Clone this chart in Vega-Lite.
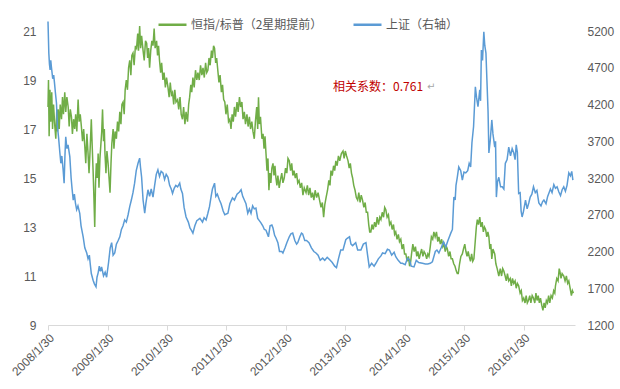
{
  "$schema": "https://vega.github.io/schema/vega-lite/v6.json",
  "width": 527,
  "height": 294,
  "autosize": {"type": "none"},
  "padding": {"left": 48, "top": 31, "right": 45, "bottom": 64},
  "background": "white",
  "config": {
    "view": {"stroke": null},
    "font": "Liberation Sans",
    "axis": {"labelColor": "#595959", "labelFontSize": 12, "grid": false, "titleColor": "#595959"}
  },
  "datasets": {
    "hs": [
      {"date":"2008-01-30","v":17.9},{"date":"2008-02-02","v":19.0},{"date":"2008-02-06","v":16.7},{"date":"2008-02-11","v":18.6},{"date":"2008-02-16","v":17.3},{"date":"2008-02-22","v":18.5},{"date":"2008-02-27","v":17.0},{"date":"2008-03-04","v":18.0},{"date":"2008-03-12","v":17.1},{"date":"2008-03-18","v":16.6},{"date":"2008-03-24","v":17.8},{"date":"2008-03-29","v":16.9},{"date":"2008-04-02","v":17.8},{"date":"2008-04-08","v":17.0},{"date":"2008-04-14","v":18.0},{"date":"2008-04-22","v":17.4},{"date":"2008-04-28","v":18.3},{"date":"2008-05-04","v":17.6},{"date":"2008-05-12","v":18.5},{"date":"2008-05-18","v":17.7},{"date":"2008-05-25","v":18.3},{"date":"2008-06-02","v":17.9},{"date":"2008-06-08","v":17.1},{"date":"2008-06-15","v":17.8},{"date":"2008-06-22","v":17.5},{"date":"2008-06-28","v":16.8},{"date":"2008-07-05","v":17.4},{"date":"2008-07-12","v":17.0},{"date":"2008-07-18","v":17.6},{"date":"2008-07-25","v":16.9},{"date":"2008-08-02","v":18.2},{"date":"2008-08-08","v":17.3},{"date":"2008-08-15","v":17.6},{"date":"2008-08-22","v":17.1},{"date":"2008-08-29","v":16.5},{"date":"2008-09-05","v":17.0},{"date":"2008-09-12","v":16.3},{"date":"2008-09-18","v":15.6},{"date":"2008-09-25","v":16.8},{"date":"2008-10-02","v":16.0},{"date":"2008-10-08","v":15.2},{"date":"2008-10-15","v":16.2},{"date":"2008-10-22","v":17.4},{"date":"2008-10-27","v":16.4},{"date":"2008-11-02","v":15.3},{"date":"2008-11-07","v":14.2},{"date":"2008-11-12","v":13.0},{"date":"2008-11-17","v":14.8},{"date":"2008-11-22","v":15.6},{"date":"2008-11-28","v":15.0},{"date":"2008-12-03","v":16.0},{"date":"2008-12-08","v":14.6},{"date":"2008-12-14","v":15.8},{"date":"2008-12-20","v":16.4},{"date":"2008-12-25","v":16.9},{"date":"2008-12-30","v":17.8},
      {"date":"2009-01-05","v":16.5},{"date":"2009-01-10","v":17.0},{"date":"2009-01-14","v":16.0},{"date":"2009-01-20","v":15.2},{"date":"2009-01-26","v":16.1},{"date":"2009-02-02","v":15.6},{"date":"2009-02-08","v":15.0},{"date":"2009-02-14","v":14.4},{"date":"2009-02-20","v":15.6},{"date":"2009-02-25","v":16.4},{"date":"2009-03-05","v":17.0},{"date":"2009-03-10","v":16.2},{"date":"2009-03-17","v":16.9},{"date":"2009-03-25","v":16.6},{"date":"2009-04-01","v":17.3},{"date":"2009-04-08","v":16.9},{"date":"2009-04-15","v":17.7},{"date":"2009-04-22","v":17.2},{"date":"2009-04-28","v":18.0},{"date":"2009-05-05","v":18.1},{"date":"2009-05-12","v":17.6},{"date":"2009-05-18","v":18.6},{"date":"2009-05-25","v":19.0},{"date":"2009-06-01","v":18.6},{"date":"2009-06-08","v":19.5},{"date":"2009-06-15","v":19.8},{"date":"2009-06-22","v":19.2},{"date":"2009-06-28","v":20.0},{"date":"2009-07-05","v":20.1},{"date":"2009-07-12","v":19.6},{"date":"2009-07-20","v":20.4},{"date":"2009-07-27","v":20.3},{"date":"2009-08-03","v":20.9},{"date":"2009-08-08","v":20.2},{"date":"2009-08-15","v":21.2},{"date":"2009-08-21","v":20.3},{"date":"2009-08-27","v":20.8},{"date":"2009-09-05","v":20.2},{"date":"2009-09-12","v":19.8},{"date":"2009-09-20","v":20.6},{"date":"2009-09-27","v":20.5},{"date":"2009-10-03","v":19.9},{"date":"2009-10-09","v":20.3},{"date":"2009-10-15","v":19.5},{"date":"2009-10-22","v":20.2},{"date":"2009-10-29","v":20.6},{"date":"2009-11-05","v":20.4},{"date":"2009-11-12","v":21.1},{"date":"2009-11-18","v":20.3},{"date":"2009-11-27","v":20.6},{"date":"2009-12-03","v":20.0},{"date":"2009-12-09","v":20.4},{"date":"2009-12-15","v":19.8},{"date":"2009-12-22","v":19.3},{"date":"2009-12-28","v":19.7},
      {"date":"2010-01-05","v":19.0},{"date":"2010-01-12","v":19.3},{"date":"2010-01-20","v":18.7},{"date":"2010-01-27","v":19.1},{"date":"2010-02-05","v":18.7},{"date":"2010-02-12","v":18.3},{"date":"2010-02-19","v":18.9},{"date":"2010-02-26","v":18.4},{"date":"2010-03-05","v":18.5},{"date":"2010-03-12","v":18.0},{"date":"2010-03-19","v":18.6},{"date":"2010-03-26","v":18.1},{"date":"2010-04-05","v":18.2},{"date":"2010-04-12","v":17.8},{"date":"2010-04-20","v":18.3},{"date":"2010-04-27","v":17.6},{"date":"2010-05-05","v":17.4},{"date":"2010-05-12","v":17.9},{"date":"2010-05-20","v":17.2},{"date":"2010-05-27","v":17.7},{"date":"2010-06-05","v":17.3},{"date":"2010-06-12","v":18.0},{"date":"2010-06-18","v":18.3},{"date":"2010-06-25","v":18.8},{"date":"2010-07-01","v":18.5},{"date":"2010-07-08","v":19.1},{"date":"2010-07-16","v":18.7},{"date":"2010-07-24","v":19.4},{"date":"2010-08-01","v":19.0},{"date":"2010-08-08","v":19.3},{"date":"2010-08-16","v":19.0},{"date":"2010-08-24","v":19.6},{"date":"2010-09-01","v":19.2},{"date":"2010-09-08","v":19.5},{"date":"2010-09-16","v":19.1},{"date":"2010-09-24","v":19.7},{"date":"2010-10-01","v":19.3},{"date":"2010-10-08","v":19.4},{"date":"2010-10-15","v":19.9},{"date":"2010-10-22","v":19.6},{"date":"2010-10-30","v":20.2},{"date":"2010-11-05","v":19.9},{"date":"2010-11-12","v":20.4},{"date":"2010-11-18","v":20.3},{"date":"2010-11-25","v":19.7},{"date":"2010-12-01","v":19.9},{"date":"2010-12-08","v":19.4},{"date":"2010-12-15","v":18.9},{"date":"2010-12-22","v":19.2},{"date":"2010-12-30","v":18.5},
      {"date":"2011-01-06","v":18.8},{"date":"2011-01-13","v":18.2},{"date":"2011-01-20","v":18.1},{"date":"2011-01-27","v":17.6},{"date":"2011-02-04","v":18.0},{"date":"2011-02-12","v":17.3},{"date":"2011-02-20","v":17.4},{"date":"2011-02-27","v":17.0},{"date":"2011-03-06","v":17.6},{"date":"2011-03-13","v":17.3},{"date":"2011-03-20","v":17.9},{"date":"2011-03-27","v":17.5},{"date":"2011-04-05","v":18.1},{"date":"2011-04-12","v":17.7},{"date":"2011-04-20","v":18.3},{"date":"2011-04-27","v":17.9},{"date":"2011-05-05","v":18.1},{"date":"2011-05-12","v":17.4},{"date":"2011-05-20","v":17.7},{"date":"2011-05-27","v":17.2},{"date":"2011-06-05","v":17.6},{"date":"2011-06-12","v":17.1},{"date":"2011-06-20","v":17.5},{"date":"2011-06-27","v":17.0},{"date":"2011-07-05","v":17.3},{"date":"2011-07-12","v":16.9},{"date":"2011-07-20","v":16.6},{"date":"2011-07-27","v":17.3},{"date":"2011-08-04","v":17.9},{"date":"2011-08-10","v":17.0},{"date":"2011-08-15","v":18.3},{"date":"2011-08-20","v":17.2},{"date":"2011-08-27","v":17.5},{"date":"2011-09-05","v":16.6},{"date":"2011-09-12","v":16.8},{"date":"2011-09-18","v":16.2},{"date":"2011-09-24","v":16.7},{"date":"2011-09-30","v":16.0},{"date":"2011-10-06","v":15.3},{"date":"2011-10-12","v":15.8},{"date":"2011-10-18","v":14.5},{"date":"2011-10-24","v":15.2},{"date":"2011-10-30","v":14.8},{"date":"2011-11-05","v":15.4},{"date":"2011-11-12","v":15.6},{"date":"2011-11-18","v":15.1},{"date":"2011-11-24","v":15.5},{"date":"2011-11-30","v":15.0},{"date":"2011-12-06","v":14.7},{"date":"2011-12-12","v":15.1},{"date":"2011-12-20","v":14.6},{"date":"2011-12-27","v":14.9},
      {"date":"2012-01-05","v":15.2},{"date":"2012-01-12","v":14.8},{"date":"2012-01-20","v":15.0},{"date":"2012-01-28","v":15.4},{"date":"2012-02-05","v":15.2},{"date":"2012-02-12","v":15.8},{"date":"2012-02-20","v":15.7},{"date":"2012-02-28","v":15.3},{"date":"2012-03-06","v":15.6},{"date":"2012-03-13","v":15.1},{"date":"2012-03-20","v":15.3},{"date":"2012-03-28","v":15.0},{"date":"2012-04-05","v":15.2},{"date":"2012-04-12","v":14.8},{"date":"2012-04-20","v":14.9},{"date":"2012-04-28","v":14.6},{"date":"2012-05-06","v":14.8},{"date":"2012-05-14","v":14.3},{"date":"2012-05-22","v":14.6},{"date":"2012-06-02","v":14.4},{"date":"2012-06-10","v":14.7},{"date":"2012-06-18","v":14.3},{"date":"2012-06-26","v":14.6},{"date":"2012-07-04","v":14.2},{"date":"2012-07-12","v":14.4},{"date":"2012-07-20","v":14.1},{"date":"2012-07-28","v":14.5},{"date":"2012-08-06","v":14.2},{"date":"2012-08-15","v":14.4},{"date":"2012-08-24","v":14.1},{"date":"2012-09-02","v":13.8},{"date":"2012-09-10","v":14.0},{"date":"2012-09-18","v":13.4},{"date":"2012-09-25","v":13.9},{"date":"2012-10-03","v":14.2},{"date":"2012-10-12","v":14.5},{"date":"2012-10-20","v":14.9},{"date":"2012-10-27","v":14.7},{"date":"2012-11-02","v":15.3},{"date":"2012-11-10","v":15.1},{"date":"2012-11-18","v":15.5},{"date":"2012-11-25","v":15.3},{"date":"2012-12-02","v":15.7},{"date":"2012-12-10","v":15.5},{"date":"2012-12-18","v":15.9},{"date":"2012-12-26","v":15.7},
      {"date":"2013-01-05","v":16.0},{"date":"2013-01-15","v":16.1},{"date":"2013-01-22","v":15.8},{"date":"2013-01-29","v":16.1},{"date":"2013-02-06","v":15.9},{"date":"2013-02-15","v":15.7},{"date":"2013-02-22","v":15.4},{"date":"2013-03-01","v":15.6},{"date":"2013-03-08","v":15.2},{"date":"2013-03-15","v":15.0},{"date":"2013-03-22","v":14.7},{"date":"2013-03-30","v":14.5},{"date":"2013-04-07","v":14.2},{"date":"2013-04-15","v":14.1},{"date":"2013-04-22","v":14.4},{"date":"2013-04-30","v":14.0},{"date":"2013-05-07","v":14.3},{"date":"2013-05-15","v":14.1},{"date":"2013-05-23","v":13.8},{"date":"2013-05-31","v":14.0},{"date":"2013-06-07","v":13.6},{"date":"2013-06-15","v":13.6},{"date":"2013-06-22","v":13.1},{"date":"2013-06-28","v":12.8},{"date":"2013-07-05","v":12.8},{"date":"2013-07-12","v":13.1},{"date":"2013-07-20","v":12.9},{"date":"2013-07-28","v":13.2},{"date":"2013-08-05","v":13.0},{"date":"2013-08-13","v":13.4},{"date":"2013-08-21","v":13.1},{"date":"2013-08-29","v":13.4},{"date":"2013-09-05","v":13.3},{"date":"2013-09-13","v":13.6},{"date":"2013-09-21","v":13.4},{"date":"2013-09-28","v":13.8},{"date":"2013-10-05","v":13.7},{"date":"2013-10-13","v":13.4},{"date":"2013-10-21","v":13.5},{"date":"2013-10-28","v":13.1},{"date":"2013-11-05","v":13.2},{"date":"2013-11-13","v":12.9},{"date":"2013-11-21","v":13.1},{"date":"2013-11-28","v":12.7},{"date":"2013-12-05","v":12.8},{"date":"2013-12-13","v":12.5},{"date":"2013-12-21","v":12.7},{"date":"2013-12-28","v":12.4},
      {"date":"2014-01-05","v":12.5},{"date":"2014-01-13","v":12.1},{"date":"2014-01-21","v":12.3},{"date":"2014-01-28","v":11.9},{"date":"2014-02-05","v":11.9},{"date":"2014-02-13","v":11.6},{"date":"2014-02-21","v":11.8},{"date":"2014-02-28","v":11.4},{"date":"2014-03-05","v":11.5},{"date":"2014-03-12","v":11.9},{"date":"2014-03-20","v":12.3},{"date":"2014-03-28","v":12.0},{"date":"2014-04-05","v":12.2},{"date":"2014-04-13","v":11.8},{"date":"2014-04-20","v":12.0},{"date":"2014-04-28","v":11.7},{"date":"2014-05-05","v":11.9},{"date":"2014-05-13","v":12.1},{"date":"2014-05-21","v":11.8},{"date":"2014-05-28","v":12.0},{"date":"2014-06-05","v":11.9},{"date":"2014-06-13","v":11.7},{"date":"2014-06-20","v":11.9},{"date":"2014-06-27","v":11.8},{"date":"2014-07-05","v":12.2},{"date":"2014-07-12","v":12.6},{"date":"2014-07-20","v":12.5},{"date":"2014-07-27","v":12.8},{"date":"2014-08-04","v":12.6},{"date":"2014-08-12","v":12.8},{"date":"2014-08-20","v":12.4},{"date":"2014-08-27","v":12.6},{"date":"2014-09-05","v":12.3},{"date":"2014-09-13","v":12.5},{"date":"2014-09-20","v":12.2},{"date":"2014-09-27","v":12.3},{"date":"2014-10-05","v":12.0},{"date":"2014-10-12","v":12.2},{"date":"2014-10-18","v":12.1},{"date":"2014-10-26","v":11.8},{"date":"2014-11-03","v":12.0},{"date":"2014-11-10","v":11.7},{"date":"2014-11-18","v":11.7},{"date":"2014-11-26","v":11.5},{"date":"2014-12-04","v":11.4},{"date":"2014-12-12","v":11.2},{"date":"2014-12-18","v":11.1},{"date":"2014-12-24","v":11.1},
      {"date":"2015-01-01","v":11.5},{"date":"2015-01-09","v":11.8},{"date":"2015-01-18","v":11.9},{"date":"2015-01-25","v":12.1},{"date":"2015-02-02","v":12.3},{"date":"2015-02-09","v":12.0},{"date":"2015-02-16","v":11.8},{"date":"2015-02-23","v":12.0},{"date":"2015-03-01","v":11.8},{"date":"2015-03-09","v":11.6},{"date":"2015-03-16","v":11.9},{"date":"2015-03-23","v":11.6},{"date":"2015-03-30","v":11.7},{"date":"2015-04-07","v":12.4},{"date":"2015-04-14","v":13.0},{"date":"2015-04-20","v":13.3},{"date":"2015-04-27","v":13.1},{"date":"2015-05-05","v":13.4},{"date":"2015-05-12","v":13.0},{"date":"2015-05-20","v":13.2},{"date":"2015-05-27","v":12.8},{"date":"2015-06-03","v":13.0},{"date":"2015-06-10","v":12.9},{"date":"2015-06-17","v":12.6},{"date":"2015-06-24","v":12.8},{"date":"2015-06-30","v":12.6},{"date":"2015-07-06","v":12.1},{"date":"2015-07-12","v":12.3},{"date":"2015-07-18","v":11.7},{"date":"2015-07-25","v":12.1},{"date":"2015-08-05","v":11.9},{"date":"2015-08-12","v":11.5},{"date":"2015-08-20","v":11.3},{"date":"2015-08-30","v":11.0},{"date":"2015-09-08","v":11.3},{"date":"2015-09-16","v":11.0},{"date":"2015-09-23","v":11.3},{"date":"2015-09-30","v":11.2},{"date":"2015-10-08","v":11.0},{"date":"2015-10-15","v":10.8},{"date":"2015-10-22","v":11.1},{"date":"2015-10-30","v":10.8},{"date":"2015-11-08","v":10.9},{"date":"2015-11-15","v":10.6},{"date":"2015-11-22","v":10.9},{"date":"2015-11-30","v":10.7},{"date":"2015-12-08","v":10.8},{"date":"2015-12-15","v":10.5},{"date":"2015-12-22","v":10.7},{"date":"2015-12-30","v":10.6},
      {"date":"2016-01-08","v":10.3},{"date":"2016-01-15","v":10.4},{"date":"2016-01-22","v":10.0},{"date":"2016-01-30","v":10.1},{"date":"2016-02-07","v":9.9},{"date":"2016-02-14","v":10.2},{"date":"2016-02-21","v":9.9},{"date":"2016-02-28","v":10.0},{"date":"2016-03-07","v":10.2},{"date":"2016-03-14","v":9.9},{"date":"2016-03-22","v":10.2},{"date":"2016-03-30","v":10.1},{"date":"2016-04-07","v":9.9},{"date":"2016-04-14","v":10.3},{"date":"2016-04-21","v":10.0},{"date":"2016-04-28","v":10.2},{"date":"2016-05-05","v":9.9},{"date":"2016-05-12","v":10.1},{"date":"2016-05-20","v":9.8},{"date":"2016-05-27","v":9.6},{"date":"2016-06-03","v":9.9},{"date":"2016-06-10","v":9.7},{"date":"2016-06-17","v":10.0},{"date":"2016-06-24","v":9.9},{"date":"2016-07-01","v":10.2},{"date":"2016-07-08","v":9.9},{"date":"2016-07-16","v":10.2},{"date":"2016-07-24","v":10.1},{"date":"2016-08-01","v":10.4},{"date":"2016-08-08","v":10.3},{"date":"2016-08-12","v":10.6},{"date":"2016-08-20","v":10.9},{"date":"2016-08-28","v":10.8},{"date":"2016-09-04","v":11.3},{"date":"2016-09-08","v":11.2},{"date":"2016-09-15","v":10.9},{"date":"2016-09-22","v":11.1},{"date":"2016-10-02","v":11.0},{"date":"2016-10-10","v":10.8},{"date":"2016-10-18","v":11.0},{"date":"2016-10-26","v":10.7},{"date":"2016-11-02","v":10.8},{"date":"2016-11-10","v":10.5},{"date":"2016-11-18","v":10.2},{"date":"2016-11-24","v":10.4},{"date":"2016-11-30","v":10.3}
    ],
    "sh": [
      {"date":"2008-01-30","v":5330},{"date":"2008-02-04","v":4900},{"date":"2008-02-08","v":4750},{"date":"2008-02-12","v":4670},{"date":"2008-02-16","v":4800},{"date":"2008-02-20","v":4710},{"date":"2008-02-28","v":4550},{"date":"2008-03-05","v":4600},{"date":"2008-03-10","v":4490},{"date":"2008-03-16","v":4350},{"date":"2008-03-22","v":4220},{"date":"2008-03-28","v":3900},{"date":"2008-04-04","v":3750},{"date":"2008-04-12","v":3540},{"date":"2008-04-18","v":3400},{"date":"2008-04-24","v":3500},{"date":"2008-05-02","v":3310},{"date":"2008-05-08","v":3130},{"date":"2008-05-13","v":3500},{"date":"2008-05-18","v":3760},{"date":"2008-05-25","v":3600},{"date":"2008-06-01","v":3650},{"date":"2008-06-12","v":3490},{"date":"2008-06-20","v":3200},{"date":"2008-06-26","v":3050},{"date":"2008-07-03","v":2900},{"date":"2008-07-10","v":2980},{"date":"2008-07-17","v":2850},{"date":"2008-07-24","v":2770},{"date":"2008-08-01","v":2820},{"date":"2008-08-12","v":2720},{"date":"2008-08-20","v":2550},{"date":"2008-09-02","v":2400},{"date":"2008-09-12","v":2250},{"date":"2008-09-24","v":2180},{"date":"2008-10-02","v":2100},{"date":"2008-10-10","v":2150},{"date":"2008-10-15","v":2040},{"date":"2008-10-22","v":1900},{"date":"2008-11-02","v":1810},{"date":"2008-11-10","v":1760},{"date":"2008-11-20","v":1720},{"date":"2008-11-26","v":1850},{"date":"2008-12-03","v":1910},{"date":"2008-12-10","v":2000},{"date":"2008-12-17","v":1930},{"date":"2008-12-24","v":1990},
      {"date":"2009-01-05","v":1870},{"date":"2009-01-15","v":1920},{"date":"2009-01-24","v":1850},{"date":"2009-02-05","v":2050},{"date":"2009-02-15","v":2250},{"date":"2009-02-24","v":2320},{"date":"2009-03-05","v":2150},{"date":"2009-03-15","v":2180},{"date":"2009-03-25","v":2300},{"date":"2009-04-05","v":2350},{"date":"2009-04-15","v":2400},{"date":"2009-04-25","v":2500},{"date":"2009-05-05","v":2550},{"date":"2009-05-15","v":2630},{"date":"2009-05-25","v":2600},{"date":"2009-06-05","v":2700},{"date":"2009-06-15","v":2810},{"date":"2009-06-25","v":2900},{"date":"2009-07-05","v":3000},{"date":"2009-07-15","v":3130},{"date":"2009-07-25","v":3300},{"date":"2009-08-05","v":3400},{"date":"2009-08-15","v":3470},{"date":"2009-08-20","v":3350},{"date":"2009-08-27","v":3210},{"date":"2009-09-05","v":2900},{"date":"2009-09-15","v":2720},{"date":"2009-09-22","v":2850},{"date":"2009-10-05","v":3040},{"date":"2009-10-15","v":2950},{"date":"2009-10-25","v":3050},{"date":"2009-11-05","v":2940},{"date":"2009-11-15","v":3100},{"date":"2009-11-25","v":3250},{"date":"2009-12-05","v":3310},{"date":"2009-12-15","v":3220},{"date":"2009-12-25","v":3290},
      {"date":"2010-01-05","v":3270},{"date":"2010-01-15","v":3180},{"date":"2010-01-25","v":3250},{"date":"2010-02-05","v":3210},{"date":"2010-02-15","v":3100},{"date":"2010-02-25","v":3050},{"date":"2010-03-05","v":2990},{"date":"2010-03-15","v":3060},{"date":"2010-03-25","v":3100},{"date":"2010-04-05","v":3080},{"date":"2010-04-18","v":3130},{"date":"2010-04-25","v":3050},{"date":"2010-05-05","v":2990},{"date":"2010-05-15","v":2800},{"date":"2010-05-27","v":2670},{"date":"2010-06-10","v":2600},{"date":"2010-06-20","v":2520},{"date":"2010-07-01","v":2480},{"date":"2010-07-08","v":2450},{"date":"2010-07-20","v":2550},{"date":"2010-08-01","v":2620},{"date":"2010-08-08","v":2630},{"date":"2010-08-20","v":2650},{"date":"2010-09-05","v":2600},{"date":"2010-09-15","v":2660},{"date":"2010-09-27","v":2630},{"date":"2010-10-08","v":2720},{"date":"2010-10-18","v":2810},{"date":"2010-10-28","v":2950},{"date":"2010-11-05","v":3050},{"date":"2010-11-18","v":3130},{"date":"2010-11-26","v":2950},{"date":"2010-12-05","v":2980},{"date":"2010-12-18","v":2900},{"date":"2010-12-28","v":2850},
      {"date":"2011-01-10","v":2750},{"date":"2011-01-20","v":2700},{"date":"2011-02-08","v":2720},{"date":"2011-02-20","v":2850},{"date":"2011-03-08","v":2930},{"date":"2011-03-20","v":2900},{"date":"2011-04-05","v":2980},{"date":"2011-04-20","v":3010},{"date":"2011-04-30","v":3040},{"date":"2011-05-10","v":2950},{"date":"2011-05-20","v":2900},{"date":"2011-05-30","v":2850},{"date":"2011-06-10","v":2720},{"date":"2011-06-20","v":2780},{"date":"2011-06-30","v":2720},{"date":"2011-07-10","v":2820},{"date":"2011-07-20","v":2780},{"date":"2011-07-30","v":2790},{"date":"2011-08-10","v":2650},{"date":"2011-08-20","v":2620},{"date":"2011-08-30","v":2590},{"date":"2011-09-10","v":2550},{"date":"2011-09-20","v":2500},{"date":"2011-09-30","v":2490},{"date":"2011-10-15","v":2400},{"date":"2011-10-25","v":2550},{"date":"2011-11-05","v":2560},{"date":"2011-11-12","v":2520},{"date":"2011-11-22","v":2420},{"date":"2011-12-01","v":2380},{"date":"2011-12-12","v":2320},{"date":"2011-12-22","v":2200},
      {"date":"2012-01-05","v":2200},{"date":"2012-01-12","v":2180},{"date":"2012-01-25","v":2250},{"date":"2012-02-05","v":2320},{"date":"2012-02-20","v":2400},{"date":"2012-03-01","v":2440},{"date":"2012-03-12","v":2450},{"date":"2012-03-25","v":2350},{"date":"2012-04-05","v":2300},{"date":"2012-04-12","v":2320},{"date":"2012-04-25","v":2400},{"date":"2012-05-05","v":2450},{"date":"2012-05-12","v":2440},{"date":"2012-05-25","v":2350},{"date":"2012-06-05","v":2350},{"date":"2012-06-20","v":2320},{"date":"2012-07-05","v":2250},{"date":"2012-07-20","v":2200},{"date":"2012-08-02","v":2180},{"date":"2012-08-15","v":2150},{"date":"2012-08-28","v":2080},{"date":"2012-09-12","v":2110},{"date":"2012-09-25","v":2080},{"date":"2012-10-10","v":2120},{"date":"2012-10-24","v":2090},{"date":"2012-11-10","v":2050},{"date":"2012-11-25","v":2000},{"date":"2012-12-06","v":1980},{"date":"2012-12-18","v":2100},
      {"date":"2013-01-01","v":2220},{"date":"2013-01-15","v":2220},{"date":"2013-02-01","v":2360},{"date":"2013-02-10","v":2380},{"date":"2013-02-24","v":2400},{"date":"2013-03-05","v":2300},{"date":"2013-03-15","v":2280},{"date":"2013-04-03","v":2320},{"date":"2013-04-15","v":2220},{"date":"2013-05-05","v":2220},{"date":"2013-05-20","v":2300},{"date":"2013-06-05","v":2320},{"date":"2013-06-15","v":2150},{"date":"2013-06-25","v":1990},{"date":"2013-07-10","v":2040},{"date":"2013-07-25","v":2000},{"date":"2013-08-05","v":2040},{"date":"2013-08-20","v":2100},{"date":"2013-09-05","v":2140},{"date":"2013-09-15","v":2180},{"date":"2013-10-01","v":2170},{"date":"2013-10-15","v":2230},{"date":"2013-10-27","v":2220},{"date":"2013-11-10","v":2150},{"date":"2013-11-25","v":2190},{"date":"2013-12-05","v":2130},{"date":"2013-12-20","v":2080},
      {"date":"2014-01-05","v":2040},{"date":"2014-01-15","v":2040},{"date":"2014-02-01","v":2020},{"date":"2014-02-15","v":2110},{"date":"2014-02-27","v":2090},{"date":"2014-03-10","v":2000},{"date":"2014-03-27","v":1990},{"date":"2014-04-10","v":2080},{"date":"2014-04-25","v":2050},{"date":"2014-05-18","v":2040},{"date":"2014-06-05","v":2030},{"date":"2014-06-20","v":2030},{"date":"2014-07-05","v":2040},{"date":"2014-07-18","v":2060},{"date":"2014-08-05","v":2200},{"date":"2014-08-15","v":2220},{"date":"2014-08-27","v":2180},{"date":"2014-09-10","v":2250},{"date":"2014-09-25","v":2330},{"date":"2014-10-08","v":2260},{"date":"2014-10-20","v":2340},{"date":"2014-11-08","v":2450},{"date":"2014-11-18","v":2500},{"date":"2014-11-27","v":2940},{"date":"2014-12-05","v":2900},{"date":"2014-12-10","v":3100},{"date":"2014-12-18","v":3210},{"date":"2014-12-27","v":3350},
      {"date":"2015-01-08","v":3300},{"date":"2015-01-18","v":3170},{"date":"2015-01-28","v":3280},{"date":"2015-02-08","v":3270},{"date":"2015-02-20","v":3300},{"date":"2015-03-01","v":3400},{"date":"2015-03-10","v":3350},{"date":"2015-03-18","v":3680},{"date":"2015-03-28","v":3900},{"date":"2015-04-08","v":4440},{"date":"2015-04-15","v":4300},{"date":"2015-04-24","v":4170},{"date":"2015-05-05","v":4400},{"date":"2015-05-10","v":4250},{"date":"2015-05-15","v":4940},{"date":"2015-05-22","v":4800},{"date":"2015-05-30","v":5190},{"date":"2015-06-05","v":5000},{"date":"2015-06-12","v":4900},{"date":"2015-06-18","v":4530},{"date":"2015-06-25","v":4100},{"date":"2015-06-30","v":3540},{"date":"2015-07-08","v":3700},{"date":"2015-07-18","v":3990},{"date":"2015-07-25","v":3800},{"date":"2015-08-05","v":3620},{"date":"2015-08-10","v":3700},{"date":"2015-08-15","v":2940},{"date":"2015-08-22","v":3150},{"date":"2015-08-30","v":3210},{"date":"2015-09-10","v":3080},{"date":"2015-09-20","v":3080},{"date":"2015-09-30","v":3050},{"date":"2015-10-09","v":3400},{"date":"2015-10-20","v":3450},{"date":"2015-10-30","v":3620},{"date":"2015-11-10","v":3500},{"date":"2015-11-20","v":3600},{"date":"2015-11-30","v":3540},{"date":"2015-12-08","v":3450},{"date":"2015-12-15","v":3650},{"date":"2015-12-22","v":3550},{"date":"2015-12-30","v":2990},
      {"date":"2016-01-08","v":3000},{"date":"2016-01-14","v":2750},{"date":"2016-01-20","v":2670},{"date":"2016-01-28","v":2740},{"date":"2016-02-10","v":2900},{"date":"2016-02-20","v":2780},{"date":"2016-03-01","v":2860},{"date":"2016-03-10","v":2940},{"date":"2016-03-20","v":2980},{"date":"2016-03-30","v":3080},{"date":"2016-04-10","v":3000},{"date":"2016-04-20","v":3030},{"date":"2016-05-02","v":2860},{"date":"2016-05-15","v":2820},{"date":"2016-05-25","v":2880},{"date":"2016-06-02","v":2900},{"date":"2016-06-15","v":2850},{"date":"2016-06-25","v":2950},{"date":"2016-07-02","v":2990},{"date":"2016-07-12","v":3050},{"date":"2016-07-22","v":3000},{"date":"2016-08-02","v":3110},{"date":"2016-08-12","v":3060},{"date":"2016-08-22","v":3080},{"date":"2016-09-02","v":3010},{"date":"2016-09-12","v":2960},{"date":"2016-09-22","v":3040},{"date":"2016-10-02","v":3080},{"date":"2016-10-12","v":3020},{"date":"2016-10-22","v":3100},{"date":"2016-11-02","v":3270},{"date":"2016-11-12","v":3230},{"date":"2016-11-20","v":3290},{"date":"2016-11-27","v":3170}
    ],
    "note": [{"date": "2012-11-15", "v": 18.7, "t": "相关系数：0.761"}],
    "note2": [{"date": "2014-06-15", "v": 18.7, "t": "↵"}]
  },
  "encoding": {
    "x": {
      "field": "date", "type": "temporal",
      "scale": {"type": "utc", "domain": [{"year": 2008, "month": 1, "date": 30, "utc": true}, {"year": 2016, "month": 12, "date": 10, "utc": true}]},
      "axis": {
        "title": null, "format": "%Y/%-m/%-d", "labelAngle": -45, "labelFontSize": 12,
        "values": [
          {"year": 2008, "month": 1, "date": 30, "utc": true}, {"year": 2009, "month": 1, "date": 30, "utc": true},
          {"year": 2010, "month": 1, "date": 30, "utc": true}, {"year": 2011, "month": 1, "date": 30, "utc": true},
          {"year": 2012, "month": 1, "date": 30, "utc": true}, {"year": 2013, "month": 1, "date": 30, "utc": true},
          {"year": 2014, "month": 1, "date": 30, "utc": true}, {"year": 2015, "month": 1, "date": 30, "utc": true},
          {"year": 2016, "month": 1, "date": 30, "utc": true}
        ],
        "domainColor": "#D9D9D9", "tickColor": "#D9D9D9", "tickSize": 5, "labelPadding": 2
      }
    }
  },
  "layer": [
    {
      "data": {"name": "hs"},
      "mark": {"type": "line", "strokeWidth": 1.5, "clip": false},
      "encoding": {
        "y": {"field": "v", "type": "quantitative",
          "scale": {"domain": [9, 21], "zero": false, "nice": false},
          "axis": {"title": null, "values": [9, 11, 13, 15, 17, 19, 21], "domain": false, "ticks": false, "labelPadding": 12}},
        "color": {"datum": "恒指/标普（2星期提前）", "type": "nominal",
          "scale": {"domain": ["恒指/标普（2星期提前）", "上证（右轴）"], "range": ["#70AD47", "#5B9BD5"]},
          "legend": {"title": null, "orient": "none", "direction": "horizontal", "legendX": 109, "legendY": -22,
            "symbolType": "stroke", "symbolSize": 784, "symbolStrokeWidth": 2.5, "labelFontSize": 12,
            "labelFont": "Noto Sans CJK SC", "labelColor": "#595959", "labelOffset": 3, "columnPadding": 25, "labelLimit": 300}}
      }
    },
    {
      "data": {"name": "sh"},
      "mark": {"type": "line", "strokeWidth": 1.5, "clip": false},
      "encoding": {
        "y": {"field": "v", "type": "quantitative",
          "scale": {"domain": [1200, 5200], "zero": false, "nice": false},
          "axis": {"title": null, "orient": "right", "format": "d", "values": [1200, 1700, 2200, 2700, 3200, 3700, 4200, 4700, 5200], "domain": false, "ticks": false, "labelPadding": 12}},
        "color": {"datum": "上证（右轴）", "type": "nominal"}
      }
    },
    {
      "data": {"name": "note"},
      "mark": {"type": "text", "align": "left", "baseline": "middle", "font": "Noto Sans CJK SC", "fontSize": 12, "color": "#C00000"},
      "encoding": {
        "y": {"field": "v", "type": "quantitative", "scale": {"domain": [9, 21], "zero": false, "nice": false}, "axis": null},
        "text": {"field": "t"}
      }
    },
    {
      "data": {"name": "note2"},
      "mark": {"type": "text", "align": "left", "baseline": "middle", "font": "DejaVu Sans", "fontSize": 10, "color": "#A6A6A6"},
      "encoding": {
        "y": {"field": "v", "type": "quantitative", "scale": {"domain": [9, 21], "zero": false, "nice": false}, "axis": null},
        "text": {"field": "t"}
      }
    }
  ],
  "resolve": {"scale": {"y": "independent"}}
}
